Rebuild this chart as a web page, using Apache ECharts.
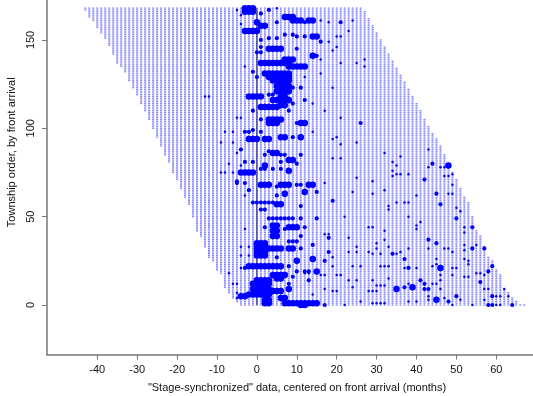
<!DOCTYPE html>
<html>
<head>
<meta charset="utf-8">
<script src="https://cdn.jsdelivr.net/npm/echarts@6/dist/echarts.min.js"></script>
<style>
html, body { margin: 0; padding: 0; background: #fff; }
#chart { width: 533px; height: 396px; }
</style>
</head>
<body>
<div id="chart"></div>
<script>
const xTicks = [-40, -30, -20, -10, 0, 10, 20, 30, 40, 50, 60]
const yTicks = [0, 50, 100, 150]

// observation window: lowest township seen per month, starting at month -43
const firstMonth = -43
const lowEdge = [167, 163, 161, 157, 154, 151, 147, 142, 137, 135, 132, 127, 123, 119, 114, 110, 105, 100, 95, 90, 85, 81, 75, 71, 66, 61, 57, 50, 42, 39, 33, 27, 25, 20, 18, 10, 7, 4, 2, 0]
// highest township seen per month once the top row stops, starting at month 27
const lastFullMonth = 26
const highEdge = [166, 162, 158, 154, 150, 146, 142, 138, 134, 130, 126, 122, 118, 114, 110, 105, 101, 97, 94, 90, 85, 80, 75, 71, 66, 61, 58, 50, 42, 39, 33, 27, 25, 20, 17, 9, 7, 4, 2, 0, 0]
const topRow = 168

// events: [township, [months]]
const largeHits = [
  [168, [-3, -2, -1]], [166, [-3, -2, -1]], [160, [0]], [158, [1, 2]], [163, [7, 8, 9]], [161, [9, 10, 11, 13, 14]],
  [155, [-3, -2, -1, 0]], [152, [14, 15]], [145, [3, 4, 5, 6]], [141, [14]],
  [139, [7, 8, 9]], [137, [1, 2, 3, 4, 5, 6, 7, 8]], [135, [8, 9, 10, 11, 12]],
  [131, [2, 3, 4, 5, 6, 7, 8]], [129, [3, 4, 5, 6, 7, 8]], [127, [4, 5, 6, 7, 8]],
  [124, [5, 6, 7, 8]], [121, [5, 6, 7, 8]], [118, [-2, -1, 0, 1, 6, 7]], [116, [4, 5, 6, 7, 8]], [113, [6, 7]], [112, [1, 2, 3, 4, 5]],
  [105, [3, 4, 5, 6]], [103, [3, 4, 5, 11, 12]], [94, [-2, -1, 0, 2, 3]], [95, [6, 7, 11]],
  [86, [4, 5]], [82, [8, 9]], [79, [2]], [75, [-4, -3, -2, -1]], [76, [8]],
  [68, [1, 2, 3, 6, 7, 8, 13, 14]], [63, [7]], [64, [12]], [57, [5, 6]],
  [45, [4, 5]], [42, [4, 5]], [39, [4, 5]], [44, [8, 9, 10]], [35, [0, 1, 2]],
  [34, [0, 1, 2]], [32, [0, 1, 2, 3, 4, 5, 6, 8, 9]], [30, [0, 1, 2]], [28, [0, 1, 2]], [26, [14]], [25, [10]],
  [22, [-2, -1, 0, 1, 2, 3, 4, 5, 6]], [19, [15]], [17, [4, 5, 6, 7]], [15, [5, 6]],
  [14, [0, 1, 2, 3]], [12, [-1, 0, 1, 2, 3]], [9, [-1, 0, 1, 2, 3, 8]], [8, [3, 4, 5, 6]], [6, [-2, -1, 0, 1, 2, 3]],
  [5, [-4, -3]], [4, [6, 7]], [3, [2, 3]], [1, [2, 3, 7, 8, 9, 10, 11, 12, 13, 14, 15]], [0, [11, 12]],
  [79, [48]], [21, [46]], [9, [35]], [10, [39]], [3, [45]]
]
const midHits = [
  [165, [1]], [167, [3]], [160, [5, 12]], [150, [1]], [151, [3, 5]], [153, [7, 9]], [152, [10, 12]], [149, [16]],
  [146, [1]], [145, [10]], [143, [0, 1]], [141, [15]], [132, [-1]], [129, [0]], [123, [9, 11]], [119, [3, 4]],
  [116, [12]], [110, [-1, 8]], [114, [9]], [105, [1]], [103, [10]], [98, [-3, -2, 1]], [99, [-1]], [95, [9]],
  [88, [-4]], [87, [3]], [85, [2, 6, 7, 11]], [81, [-3, -1, 6]], [80, [10]], [77, [1, 2, 4, 6]], [70, [-5]], [69, [-3, -5]],
  [68, [10, 11]], [67, [5]], [65, [-2]], [64, [15]], [62, [5]], [59, [19]], [58, [-1, 0, 1, 2, 3, 4]], [56, [11]], [54, [1, 2]],
  [49, [3, 4, 5, 6, 7, 8, 9, 11, 15]], [44, [2, 12]], [43, [7]], [39, [11]], [38, [18]], [36, [8, 9, 10]], [32, [11]],
  [34, [14]], [30, [18]], [27, [5]], [25, [17]], [22, [8]], [21, [-3]], [19, [10, 12, 13]], [16, [9]], [14, [13]], [12, [8]], [0, [17]],
  [103, [26]], [80, [44]], [71, [42]], [63, [45]], [57, [46]], [49, [50]], [44, [54]], [37, [43]], [35, [45]], [32, [54, 57]],
  [29, [34]], [26, [37]], [21, [38]], [22, [59]], [19, [58]], [13, [56]], [14, [41]], [12, [42]], [10, [37]], [9, [42, 43]],
  [5, [59, 50]], [2, [48]], [0, [64, 58, 59]], [160, [21]]
]
const smallHits = [
  [167, [-5, 3]], [164, [-4]], [159, [-4]], [168, [5]], [161, [16, 24]], [160, [18]], [155, [23]], [152, [20, 21]], [149, [18]],
  [146, [20]], [144, [19]], [139, [27, 16]], [137, [25, 21]], [135, [27, -3]], [132, [-1]], [131, [16]], [129, [12]], [123, [19]],
  [118, [-13, -12]], [114, [14]], [110, [17]], [106, [-5, -4, 21]], [98, [-8, -6, 14]], [92, [-9, -6, 25]], [94, [19]], [95, [20]], [91, [21]],
  [86, [-5]], [83, [19, 21]], [80, [-7]], [79, [-4]], [75, [-9, -8, -6]], [72, [25]], [69, [-5, 17]], [65, [-2]], [64, [24]], [62, [-3]],
  [58, [-1]], [50, [22]], [44, [28]], [43, [-3]], [40, [17, 18]], [38, [23]], [33, [-4, -2]], [28, [-4, -2]], [21, [-4]], [18, [-7]],
  [12, [-6, -5]], [7, [-5]], [4, [-5]], [27, [19]], [30, [23, 25, 28]], [33, [25]], [22, [24, 26, 19]], [18, [12, 13]], [17, [16, 17, 20, 21]],
  [14, [25, 23]], [10, [24]], [8, [19, 20, 28]], [9, [17]], [6, [14]], [2, [26]], [0, [22]],
  [86, [32]], [84, [36]], [81, [34]], [79, [35]], [76, [34]], [73, [34, 47, 48]], [74, [35, 36, 38, 49]], [78, [43, 46, 47]], [88, [43]], [70, [29]],
  [68, [49]], [63, [29, 48, 49]], [65, [32]], [62, [40]], [58, [35, 37, 38]], [56, [33]], [54, [33]], [55, [50]], [53, [51]], [50, [38]], [47, [41]],
  [45, [40]], [43, [40]], [44, [29, 52]], [42, [32]], [41, [52]], [37, [32]], [35, [30]], [34, [52, 55]], [33, [33]], [32, [30, 38, 43, 47, 48]], [31, [52]],
  [30, [49, 36]], [29, [29, 31, 35]], [26, [45, 52]], [25, [53]], [23, [45, 53]], [22, [31, 32, 33, 44]], [21, [37, 40, 49, 50]], [17, [46, 49, 57]], [18, [55, 56]],
  [16, [52, 53]], [15, [33]], [14, [46, 29]], [12, [38, 44, 45]], [11, [30, 31, 32]], [9, [46, 57, 58, 62]], [8, [29, 30]], [5, [43, 60, 61, 63]], [4, [47]], [3, [43, 51, 57]],
  [2, [38, 40]], [1, [29, 30, 31, 32]], [0, [49, 54, 60, 61]]
]

function toPoints(hits) {
  const points = []
  hits.forEach((hit) => {
    hit[1].forEach((month) => {
      points.push([month, hit[0]])
    })
  })
  return points
}

// one faint dot per township-month inside the window
const windowPoints = []
const lastMonth = lastFullMonth + highEdge.length
for (let month = firstMonth; month <= lastMonth; month++) {
  const low = month - firstMonth < lowEdge.length ? lowEdge[month - firstMonth] : 0
  const high = month > lastFullMonth ? highEdge[month - lastFullMonth - 1] : topRow
  for (let row = low; row <= high; row++) {
    windowPoints.push([month, row])
  }
}

const axisGray = '#777777'
const textColor = '#111111'

const chart = echarts.init(document.getElementById('chart'), null, { renderer: 'canvas' })
chart.setOption({
  animation: false,
  grid: { left: 47, right: 0, top: 0, bottom: 41.5, outerBoundsMode: 'none' },
  xAxis: {
    type: 'value',
    min: -52.6,
    max: 69.2,
    name: '"Stage-synchronized" data, centered on front arrival (months)',
    nameLocation: 'middle',
    nameGap: 28,
    nameTextStyle: { fontFamily: 'Liberation Sans', fontSize: 11, color: textColor, padding: [0, 0, 0, 14] },
    splitLine: { show: false },
    axisLine: { onZero: false, lineStyle: { color: axisGray, width: 1.5 } },
    axisTick: { customValues: xTicks, length: 5, lineStyle: { color: axisGray, width: 1 } },
    axisLabel: {
      customValues: xTicks,
      margin: 10,
      fontFamily: 'Liberation Sans',
      fontSize: 11,
      color: textColor,
    },
  },
  yAxis: {
    type: 'value',
    min: -28,
    max: 172.6,
    name: 'Township order, by front arrival',
    nameLocation: 'middle',
    nameGap: 30,
    nameTextStyle: { fontFamily: 'Liberation Sans', fontSize: 11, color: textColor, padding: [0, 0, 0, 50] },
    splitLine: { show: false },
    axisLine: { onZero: false, lineStyle: { color: axisGray, width: 1.5 } },
    axisTick: { customValues: yTicks, length: 5, lineStyle: { color: axisGray, width: 1 } },
    axisLabel: {
      customValues: yTicks,
      rotate: 90,
      margin: 11,
      fontFamily: 'Liberation Sans',
      fontSize: 11,
      color: textColor,
    },
  },
  series: [
    {
      type: 'line',
      data: [[0, 0], [0, topRow]],
      symbol: 'none',
      silent: true,
      lineStyle: { color: axisGray, width: 1.5 },
      z: 1,
    },
    {
      type: 'scatter',
      data: windowPoints,
      symbol: 'rect',
      symbolSize: [2, 1.3],
      silent: true,
      progressive: 0,
      itemStyle: { color: 'rgba(0,0,255,0.48)', opacity: 1 },
      z: 2,
    },
    {
      type: 'scatter',
      data: toPoints(smallHits),
      symbolSize: 2.5,
      silent: true,
      itemStyle: { color: '#0000ff', opacity: 1 },
      z: 3,
    },
    {
      type: 'scatter',
      data: toPoints(midHits),
      symbolSize: 4.2,
      silent: true,
      itemStyle: { color: '#0000ff', opacity: 1 },
      z: 3,
    },
    {
      type: 'scatter',
      data: toPoints(largeHits),
      symbolSize: 6.5,
      silent: true,
      itemStyle: { color: '#0000ff', opacity: 1 },
      z: 3,
    },
  ],
})
</script>
</body>
</html>
